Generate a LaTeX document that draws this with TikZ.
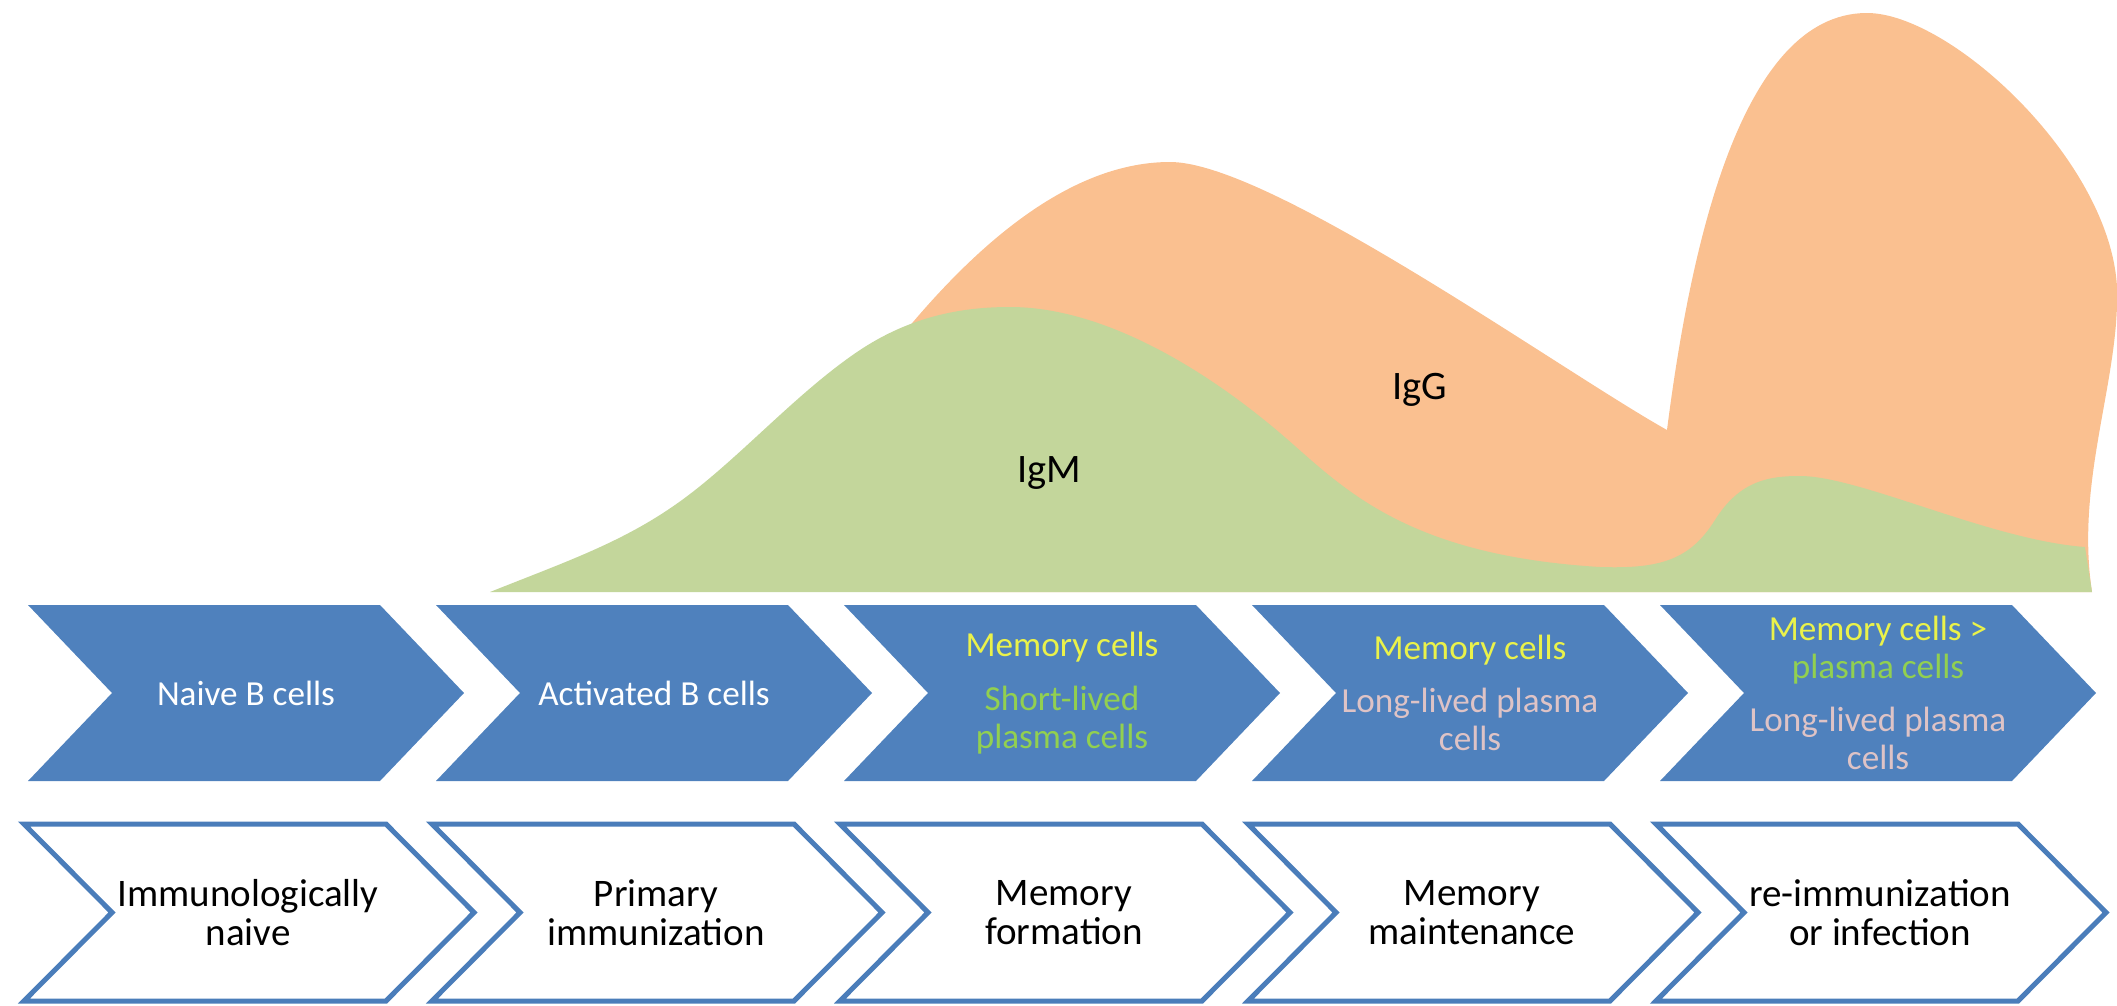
\documentclass[tikz,border=0pt]{standalone}
\usepackage{fontspec}
\setmainfont{Carlito}
\definecolor{chevblue}{HTML}{4F81BD}
\definecolor{chevline}{HTML}{4A7DBA}
\definecolor{iggfill}{HTML}{FAC090}
\definecolor{igmfill}{HTML}{C3D69B}
\definecolor{memyellow}{HTML}{EAF24A}
\definecolor{plasmagreen}{HTML}{92D050}
\definecolor{longpink}{HTML}{DEC3C6}
\begin{document}
\begin{tikzpicture}[x=0.01cm,y=-0.01cm,
  chevfill/.style={fill=chevblue},
  chevframe/.style={draw=chevline,line width=0.05cm,fill=white},
  toptext/.style={inner sep=0pt,align=center,text=white,font=\fontsize{10}{10.8}\selectfont},
  lowtext/.style={inner sep=0pt,align=center,text=black,font=\fontsize{11.1}{11.1}\selectfont},
  iglabel/.style={inner sep=0pt,text=black,font=\fontsize{11.5}{12}\selectfont}]
\useasboundingbox (0,0) rectangle (2117,1006);

% IgG response (drawn first, partly covered by IgM)
\fill[iggfill] (890,592) -- (890,350)
  .. controls (960,262) and (1060,162) .. (1170,162)
  .. controls (1270,162) and (1560,370) .. (1667,430)
  .. controls (1690,250) and (1740,13) .. (1867,13)
  .. controls (1950,13) and (2110,160) .. (2117,287)
  .. controls (2120,380) and (2075,480) .. (2092,592) -- cycle;

% IgM response
\fill[igmfill] (490,592)
  .. controls (570,560) and (630,540) .. (690,494)
  .. controls (745,452) and (800,390) .. (860,350)
  .. controls (910,317) and (960,307) .. (1010,307)
  .. controls (1100,307) and (1200,365) .. (1280,433)
  .. controls (1340,484) and (1400,555) .. (1600,567)
  .. controls (1660,569) and (1690,560) .. (1715,520)
  .. controls (1740,480) and (1770,476) .. (1800,476)
  .. controls (1860,476) and (1990,540) .. (2085,547)
  -- (2092,592) -- cycle;

\node[iglabel] (igm) at (1049,473) {IgM};
\node[iglabel] (igg) at (1420,390) {IgG};

% cell populations (filled chevrons)
\foreach \L in {28,436,844,1252,1660}
  \fill[chevfill] (\L,605) -- ++(352,0) -- ++(84,88) -- ++(-84,88) -- ++(-352,0) -- ++(84,-88) -- cycle;

\node[toptext] (naive) at (246,693) {Naive B cells};
\node[toptext] (activated) at (654,693) {Activated B cells};
\node[toptext] (memform) at (1062,693) {\textcolor{memyellow}{Memory cells}\\[4.5pt]\textcolor{plasmagreen}{Short-lived}\\\textcolor{plasmagreen}{plasma cells}};
\node[toptext] (memmaint) at (1470,693) {\textcolor{memyellow}{Memory cells}\\[4.5pt]\textcolor{longpink}{Long-lived plasma}\\\textcolor{longpink}{cells}};
\node[toptext] (recall) at (1878,693) {\textcolor{memyellow}{Memory cells >}\\\textcolor{plasmagreen}{plasma cells}\\[4.5pt]\textcolor{longpink}{Long-lived plasma}\\\textcolor{longpink}{cells}};

% immune status (outlined chevrons)
\foreach \L in {24,432,840,1248,1656}
  \draw[chevframe] (\L,824) -- ++(362,0) -- ++(88,88.5) -- ++(-88,88.5) -- ++(-362,0) -- ++(88,-88.5) -- cycle;

\node[lowtext] (stage1) at (248,913) {Immunologically\\naive};
\node[lowtext] (stage2) at (656,913) {Primary\\immunization};
\node[lowtext] (stage3) at (1064,913) {Memory\\formation};
\node[lowtext] (stage4) at (1472,913) {Memory\\maintenance};
\node[lowtext] (stage5) at (1880,913) {re-immunization\\or infection};
\end{tikzpicture}
\end{document}
